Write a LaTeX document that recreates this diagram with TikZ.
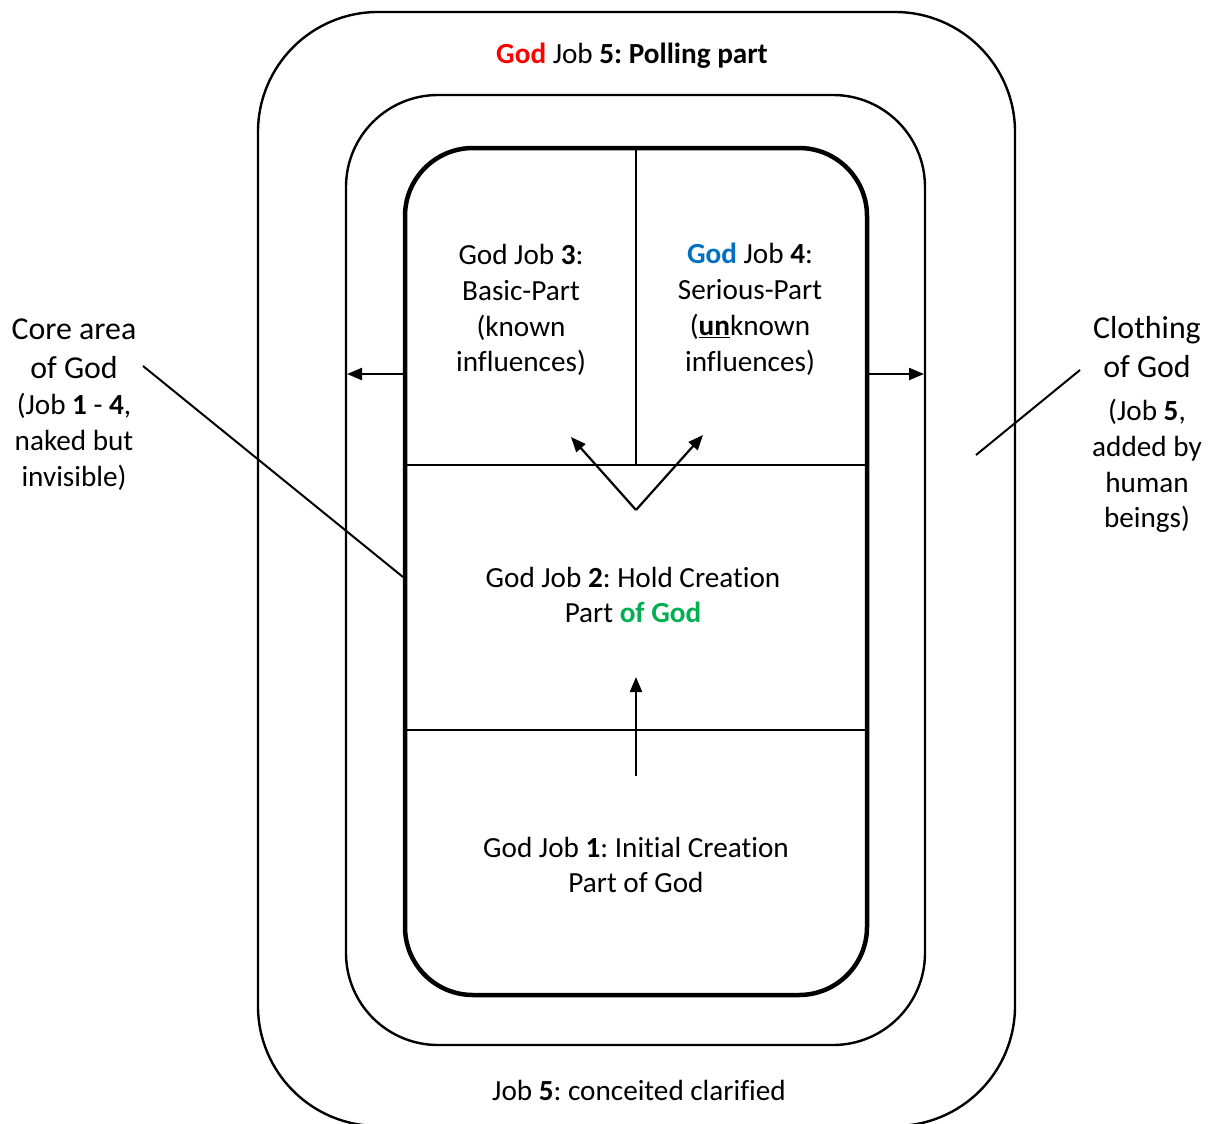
\documentclass[tikz,border=0pt]{standalone}
\usepackage{fontspec}
\setmainfont{Carlito}[Ligatures={NoCommon}]
\usetikzlibrary{arrows.meta}
\definecolor{godred}{HTML}{FF0000}
\definecolor{godblue}{HTML}{0070C0}
\definecolor{godgreen}{HTML}{00B050}
\frenchspacing
\tikzset{
  ring/.style={draw=black, line width=2.4bp},
  core/.style={draw=black, line width=4.5bp},
  divider/.style={draw=black, line width=2.6bp},
  arr/.style={draw=black, line width=2.2bp, -{Triangle[length=15bp,width=12bp]}},
  pointer/.style={draw=black, line width=2bp},
  txt/.style={align=center, inner sep=0pt, font=\fontsize{29.3}{36}\selectfont},
  bigtxt/.style={align=center, inner sep=0pt, font=\fontsize{32}{39}\selectfont},
}
\begin{document}
\begin{tikzpicture}[x=1bp,y=-1bp]
\useasboundingbox (0,0) rectangle (1212,1124);
% rings
\draw[ring, rounded corners=120bp] (258,12) rectangle (1015,1126);
\draw[ring, rounded corners=92bp] (346,95) rectangle (925,1045);
% core dividers
\coordinate (vtop) at (636,148);
\coordinate (vbot) at (636,465);
\coordinate (h1l) at (405,465);
\coordinate (h1r) at (867,465);
\coordinate (h2l) at (405,730);
\coordinate (h2r) at (867,730);
\draw[divider] (vtop) -- (vbot);
\draw[divider] (h1l) -- (h1r);
\draw[divider] (h2l) -- (h2r);
\draw[core, rounded corners=68bp] (405,148) rectangle (867,995);
% arrows
\coordinate (la0) at (404,374);
\coordinate (la1) at (347,374);
\coordinate (ra0) at (868,374);
\coordinate (ra1) at (924,374);
\coordinate (vv) at (636,510);
\coordinate (vl) at (571,437);
\coordinate (vr) at (703,435);
\coordinate (up0) at (636,776);
\coordinate (up1) at (636,677);
\draw[arr] (la0) -- (la1);
\draw[arr] (ra0) -- (ra1);
\draw[arr] (vv) -- (vl);
\draw[arr] (vv) -- (vr);
\draw[arr] (up0) -- (up1);
% texts
\node[txt] (t5) at (632,56) {\textbf{\color{godred}God} Job \textbf{5: Polling part}};
\node[txt] (t3) at (521,310) {God Job \textbf{3}:\\Basic-Part\\(known\\influences)};
\node[txt] (t4) at (750,309) {\textbf{\color{godblue}God} Job \textbf{4}:\\Serious-Part\\(\underline{\textbf{un}}known\\influences)};
\node[txt] (t2) at (633,595) {God Job \textbf{2}: Hold Creation\\Part \textbf{\color{godgreen}of God}};
\node[txt] (t1) at (636,865) {God Job \textbf{1}: Initial Creation\\Part of God};
\node[txt] (tb) at (639,1090) {Job \textbf{5}: conceited clarified};
\node[bigtxt] (core) at (74,349) {Core area\\of God};
\node[txt] (corenote) at (74,442) {(Job \textbf{1} - \textbf{4},\\naked but\\invisible)};
\node[bigtxt] (cloth) at (1147,347) {Clothing\\of God};
\node[txt] (clothnote) at (1147,466) {(Job \textbf{5},\\added by\\human\\beings)};
% pointers
\coordinate (cp0) at (143,366);
\coordinate (cp1) at (403,577);
\coordinate (kp0) at (1080,370);
\coordinate (kp1) at (976,455);
\draw[pointer] (cp0) -- (cp1);
\draw[pointer] (kp0) -- (kp1);
\end{tikzpicture}
\end{document}
